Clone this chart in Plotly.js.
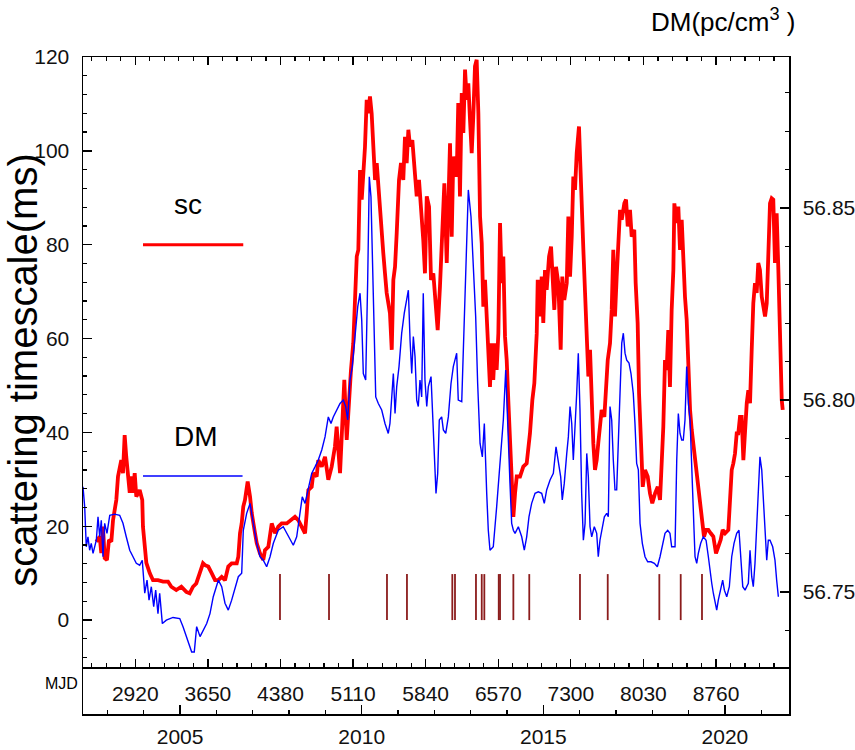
<!DOCTYPE html>
<html>
<head>
<meta charset="utf-8">
<script src="https://cdn.plot.ly/plotly-3.0.1.min.js"></script>
<style>
  html, body { margin: 0; padding: 0; background: #fff; }
  #plot { width: 855px; height: 750px; }
</style>
</head>
<body>
<div id="plot"></div>
<script>
// MJD - 50000 and scattering timescale (ms)
const mjdSc = [2528,2562,2578,2595,2612,2635,2655,2679,2696,2729,2746,2779,2796,2813,2829,2847,2864,2880,2897,2914,2930,2964,2990,2997,3015,3031,3065,3098,3148,3199,3249,3282,3332,3383,3433,3467,3500,3533,3568,3601,3621,3654,3688,3722,3755,3789,3822,3855,3889,3940,3956,3973,3990,4006,4023,4050,4074,4091,4124,4141,4174,4207,4224,4258,4292,4325,4358,4392,4443,4493,4526,4559,4593,4627,4644,4660,4694,4710,4744,4760,4795,4828,4861,4895,4928,4945,4979,4996,5022,5046,5062,5089,5112,5147,5163,5180,5197,5213,5230,5247,5263,5280,5297,5314,5331,5348,5364,5381,5398,5414,5431,5448,5481,5499,5515,5532,5549,5572,5592,5615,5632,5649,5666,5683,5706,5726,5750,5773,5800,5816,5833,5851,5874,5894,5917,5941,5961,5984,6008,6028,6052,6068,6085,6102,6118,6152,6168,6185,6203,6219,6236,6253,6269,6286,6303,6319,6336,6353,6370,6387,6404,6420,6437,6454,6470,6487,6504,6520,6537,6554,6571,6588,6605,6621,6638,6655,6671,6688,6705,6722,6739,6756,6789,6822,6856,6889,6913,6933,6957,6967,6990,7007,7023,7040,7057,7081,7101,7114,7134,7151,7174,7198,7214,7234,7259,7275,7292,7309,7325,7342,7359,7382,7392,7409,7426,7443,7460,7476,7493,7510,7526,7543,7560,7576,7593,7610,7637,7651,7671,7694,7711,7727,7744,7761,7778,7795,7812,7838,7855,7872,7895,7912,7938,7952,7972,7986,8006,8023,8046,8073,8096,8119,8147,8174,8197,8214,8230,8247,8264,8280,8297,8314,8331,8341,8365,8381,8398,8415,8431,8448,8465,8482,8499,8516,8532,8559,8582,8606,8626,8639,8660,8683,8707,8733,8760,8783,8807,8827,8851,8884,8901,8918,8934,8951,8968,8984,9001,9018,9035,9052,9069,9085,9102,9119,9135,9152,9169,9185,9202,9220,9236,9253,9270,9286,9303,9320,9336,9353,9370,9387,9404,9421,9431];
const sc = [16.7,17.8,14.3,19.9,13.2,12.8,17.1,16.7,21.3,25.6,30.6,34.1,31.3,39.4,34.8,31.3,27.1,30.6,27.1,31.3,26.3,27.7,25.6,19.9,15.6,12.2,10.0,8.5,8.5,8.2,8.2,7.1,6.4,7.1,6.0,5.7,7.1,7.8,10.0,12.1,11.7,11.4,10.0,8.5,8.5,9.2,8.5,11.4,12.1,12.1,13.5,18.5,20.6,24.2,25.6,29.5,26.3,22.8,18.5,16.4,14.2,12.8,14.9,15.6,20.6,18.5,19.9,20.6,20.6,21.3,22.0,21.3,19.9,18.5,22.8,27.7,28.4,31.3,30.6,34.1,32.7,34.8,29.9,32.7,37.0,41.2,31.3,41.2,51.2,38.4,45.5,53.3,59.0,77.5,78.9,95.9,89.6,95.2,100.9,110.9,108.0,111.6,108.0,100.9,93.8,97.4,92.4,86.7,81.0,78.2,73.9,69.7,65.4,57.6,72.5,75.3,82.5,93.8,97.4,93.8,103.0,97.4,104.5,100.9,102.3,97.4,90.3,93.8,86.7,81.0,73.9,90.3,88.1,72.5,73.9,66.8,61.8,71.1,83.2,93.1,76.1,86.0,101.6,81.7,98.8,94.5,110.2,90.3,112.3,103.8,117.3,110.9,114.4,106.6,99.5,107.3,118.0,119.4,108.0,86.0,80.3,66.8,72.5,64.7,57.6,49.7,59.0,51.2,59.0,53.3,61.1,84.6,71.8,77.5,60.4,55.4,46.9,39.8,32.0,22.0,27.0,30.6,30.6,32.7,33.4,39.8,46.9,50.5,61.1,72.5,64.7,73.2,63.3,74.6,70.4,77.5,79.6,75.3,66.1,75.3,71.8,57.6,73.2,68.2,71.8,86.0,73.2,81.7,94.5,91.7,99.5,105.2,98.1,88.8,78.9,69.7,59.0,51.9,57.6,44.8,37.7,32.0,34.1,37.7,40.5,44.8,43.3,49.7,55.4,59.0,66.1,78.9,64.7,73.2,81.7,87.4,85.3,88.8,89.6,83.9,87.4,81.7,83.2,71.8,63.3,48.3,37.7,28.4,32.0,30.6,27.0,24.9,27.0,28.4,25.6,33.4,41.2,55.4,53.3,61.8,49.7,66.1,74.6,88.8,84.6,88.1,78.9,85.3,76.1,68.9,64.0,51.9,44.8,40.5,37.7,32.0,28.4,24.9,21.3,17.8,19.2,19.2,18.5,17.8,14.2,15.6,17.1,19.2,18.5,19.2,24.9,32.0,33.4,35.5,39.8,39.8,43.3,43.3,34.1,41.9,46.2,49.0,46.2,57.6,67.5,71.8,69.7,76.1,74.6,68.9,66.1,64.7,67.5,76.1,88.8,89.9,89.6,76.1,86.7,74.6,56.1,46.9,44.8];

// MJD - 50000 and DM (pc/cm^3)
const mjdDm = [2394,2411,2427,2444,2461,2477,2495,2528,2545,2562,2578,2595,2612,2635,2663,2713,2763,2796,2829,2864,2897,2930,2964,2990,3015,3038,3058,3081,3105,3125,3148,3165,3192,3232,3299,3367,3400,3437,3487,3513,3537,3571,3604,3638,3671,3704,3755,3789,3822,3855,3889,3923,3956,3990,4006,4040,4074,4107,4141,4174,4207,4241,4275,4308,4358,4408,4443,4476,4509,4543,4576,4599,4627,4660,4694,4727,4760,4795,4828,4861,4888,4911,4945,4979,5012,5036,5056,5079,5102,5130,5157,5180,5197,5213,5237,5257,5273,5290,5307,5324,5338,5364,5398,5431,5464,5481,5499,5515,5532,5549,5572,5599,5625,5649,5666,5683,5700,5716,5733,5750,5766,5783,5800,5816,5833,5851,5867,5894,5911,5927,5944,5961,5977,6001,6018,6042,6068,6095,6118,6152,6168,6203,6219,6243,6269,6296,6319,6343,6363,6387,6410,6430,6454,6470,6487,6520,6554,6588,6621,6645,6665,6688,6705,6722,6739,6772,6806,6832,6856,6879,6906,6940,6973,7007,7033,7057,7091,7124,7151,7174,7198,7214,7234,7259,7275,7292,7309,7325,7342,7359,7375,7392,7409,7426,7443,7460,7476,7493,7510,7536,7560,7576,7593,7617,7637,7661,7677,7694,7711,7727,7744,7761,7778,7795,7812,7828,7845,7862,7885,7905,7928,7945,7962,7979,7996,8019,8046,8073,8106,8140,8170,8197,8220,8247,8274,8297,8314,8348,8365,8381,8398,8415,8431,8448,8465,8482,8499,8516,8526,8539,8549,8566,8582,8606,8632,8660,8683,8700,8717,8733,8750,8767,8783,8807,8827,8844,8868,8894,8918,8941,8968,8991,9008,9029,9052,9085,9102,9119,9135,9152,9169,9185,9202,9220,9236,9253,9270,9286,9303,9330,9353,9370,9387];
const dm = [56.7774,56.7722,56.7618,56.7644,56.7609,56.7627,56.7601,56.7635,56.7696,56.7644,56.7687,56.7592,56.7679,56.7653,56.7700,56.7703,56.7700,56.7679,56.7644,56.7609,56.7592,56.7575,56.7570,56.7583,56.7497,56.7531,56.7479,56.7514,56.7462,56.7505,56.7444,56.7497,56.7418,56.7427,56.7434,56.7431,56.7410,56.7384,56.7344,56.7344,56.7410,56.7384,56.7401,56.7418,56.7444,56.7488,56.7531,56.7514,56.7471,56.7453,56.7479,56.7514,56.7540,56.7549,56.7661,56.7705,56.7731,56.7679,56.7627,56.7592,56.7583,56.7566,56.7592,56.7627,56.7661,56.7670,56.7653,56.7635,56.7622,56.7644,56.7705,56.7748,56.7731,56.7774,56.7809,56.7826,56.7844,56.7870,56.7904,56.7956,56.7939,56.7956,56.7974,56.7991,56.8000,56.7983,56.7948,56.8052,56.8087,56.8174,56.8243,56.8278,56.8208,56.8069,56.8052,56.8312,56.8581,56.8529,56.8347,56.8139,56.8008,56.7991,56.7974,56.7939,56.7913,56.7939,56.8017,56.8069,56.7965,56.8035,56.8087,56.8174,56.8226,56.8269,56.8286,56.8156,56.8069,56.8165,56.8113,56.8000,56.7983,56.8052,56.8008,56.8278,56.8052,56.7983,56.8035,56.8061,56.7948,56.7835,56.7757,56.7809,56.7948,56.7956,56.7922,56.7913,56.7956,56.8043,56.8087,56.8122,56.8000,56.7996,56.8130,56.8391,56.8547,56.8477,56.8347,56.8217,56.8043,56.7887,56.7852,56.7939,56.7757,56.7661,56.7609,56.7618,56.7722,56.7844,56.7948,56.8078,56.7913,56.7783,56.7679,56.7661,56.7653,56.7670,56.7644,56.7609,56.7644,56.7696,56.7731,56.7757,56.7761,56.7757,56.7731,56.7766,56.7792,56.7809,56.7878,56.7844,56.7800,56.7740,56.7783,56.7861,56.7904,56.7983,56.7939,56.7844,56.7922,56.8017,56.8122,56.7974,56.7757,56.7635,56.7679,56.7861,56.7800,56.7670,56.7644,56.7670,56.7653,56.7592,56.7635,56.7670,56.7696,56.7705,56.7696,56.7983,56.7948,56.7844,56.7766,56.7766,56.7887,56.8000,56.8148,56.8174,56.8122,56.8104,56.8096,56.8069,56.8017,56.7939,56.7835,56.7818,56.7679,56.7627,56.7592,56.7579,56.7579,56.7575,56.7566,56.7592,56.7618,56.7653,56.7661,56.7653,56.7618,56.7618,56.7844,56.7965,56.7913,56.7896,56.7896,56.7948,56.8087,56.7991,56.7948,56.7844,56.7757,56.7661,56.7592,56.7575,56.7601,56.7627,56.7644,56.7635,56.7592,56.7549,56.7523,56.7497,56.7470,56.7453,56.7479,56.7505,56.7531,56.7505,56.7488,56.7514,56.7592,56.7627,56.7653,56.7661,56.7601,56.7514,56.7505,56.7523,56.7609,56.7540,56.7514,56.7575,56.7670,56.7766,56.7852,56.7818,56.7731,56.7644,56.7583,56.7635,56.7635,56.7618,56.7583,56.7531,56.7488];

// event epochs (MJD - 50000), drawn as short vertical bars
const eventMjd = [4375,4868,5451,5652,6108,6135,6346,6404,6430,6575,6588,6722,6882,7392,7671,8190,8405,8619];
const eventTop = 9.8;

// axis ticks
const mjdTicks = [2920,3650,4380,5110,5840,6570,7300,8030,8760];
const mjdRange = [2394, 9494];
const scRange = [-10, 120];
const dmRange = [56.7305, 56.8893];

// MJD-50000 -> decimal year
function toYear(m) { return 2000 + (m + 50000 - 51544.5) / 365.25; }

const FONT = 'Liberation Sans, Arial, sans-serif';
const AX = '#000';

const ex = [], ey = [];
eventMjd.forEach(m => { ex.push(m, m, null); ey.push(0, eventTop, null); });

const nSc = Math.min(mjdSc.length, sc.length);
const nDm = Math.min(mjdDm.length, dm.length);

const traces = [
    {
        x: ex, y: ey, mode: 'lines', xaxis: 'x', yaxis: 'y',
        line: {color: '#8b1c1c', width: 1.8}, hoverinfo: 'skip'
    },
    {
        x: mjdDm.slice(0, nDm), y: dm.slice(0, nDm), mode: 'lines',
        xaxis: 'x', yaxis: 'y2', name: 'DM',
        line: {color: '#0000ff', width: 1.4}
    },
    {
        x: mjdSc.slice(0, nSc), y: sc.slice(0, nSc), mode: 'lines',
        xaxis: 'x', yaxis: 'y', name: 'sc',
        line: {color: '#ff0000', width: 3.8}
    },
    // empty trace so the year-axis strip exists
    {x: [], y: [], xaxis: 'x2', yaxis: 'y3', mode: 'lines', hoverinfo: 'skip'}
];

const strip = 47 / 657;

const layout = {
    width: 855, height: 750,
    margin: {l: 83, r: 66, t: 57, b: 36},
    paper_bgcolor: '#fff', plot_bgcolor: '#fff',
    showlegend: false,
    font: {family: FONT, size: 21, color: '#111'},
    xaxis: {
        range: mjdRange, anchor: 'y', domain: [0, 1],
        tickmode: 'array', tickvals: mjdTicks,
        ticks: 'inside', ticklen: 8, tickwidth: 1.3, tickcolor: AX,
        minor: {tickmode: 'linear', tick0: 2920, dtick: 146, ticks: 'inside', ticklen: 4, tickwidth: 1.2, tickcolor: AX},
        showline: true, linecolor: AX, linewidth: 1.5, mirror: 'ticks',
        showgrid: false, zeroline: false,
        ticklabelstandoff: 7,
        tickfont: {size: 21, color: '#111'}
    },
    xaxis2: {
        range: mjdRange.map(toYear), anchor: 'y3', overlaying: 'x',
        tick0: 2005, dtick: 5,
        ticks: 'inside', ticklen: 9, tickwidth: 1.3, tickcolor: AX,
        minor: {dtick: 1, ticks: 'inside', ticklen: 4, tickwidth: 1.2, tickcolor: AX},
        showline: true, linecolor: AX, linewidth: 1.5,
        showgrid: false, zeroline: false,
        ticklabelstandoff: 3,
        tickfont: {size: 21, color: '#111'}
    },
    yaxis: {
        range: scRange, domain: [strip, 1], anchor: 'x',
        tick0: 0, dtick: 20,
        ticks: 'inside', ticklen: 9, tickwidth: 1.3, tickcolor: AX,
        minor: {dtick: 4, ticks: 'inside', ticklen: 4, tickwidth: 1.2, tickcolor: AX},
        showline: true, linecolor: AX, linewidth: 1.5,
        showgrid: false, zeroline: false,
        ticklabelstandoff: 8,
        tickfont: {size: 21, color: '#111'}
    },
    yaxis2: {
        range: dmRange, overlaying: 'y', side: 'right', anchor: 'x',
        tick0: 56.75, dtick: 0.05, tickformat: '.2f',
        ticks: 'inside', ticklen: 9, tickwidth: 1.3, tickcolor: AX,
        minor: {dtick: 0.01, ticks: 'inside', ticklen: 4, tickwidth: 1.2, tickcolor: AX},
        showline: true, linecolor: AX, linewidth: 1.5,
        showgrid: false, zeroline: false,
        ticklabelstandoff: 8,
        tickfont: {size: 21, color: '#111'}
    },
    yaxis3: {
        range: [0, 1], domain: [0, strip], anchor: 'x2',
        showline: true, linecolor: AX, linewidth: 1.5, mirror: true,
        ticks: '', showticklabels: false, showgrid: false, zeroline: false,
        fixedrange: true
    },
    shapes: [
        // legend samples
        {type: 'line', xref: 'paper', yref: 'y', x0: 0.085, x1: 0.227, y0: 80, y1: 80,
         line: {color: '#ff0000', width: 3}},
        {type: 'line', xref: 'paper', yref: 'y', x0: 0.085, x1: 0.226, y0: 30.7, y1: 30.7,
         line: {color: '#0000ff', width: 1.5}}
    ],
    annotations: [
        {text: 'sc', xref: 'paper', yref: 'y', x: 0.149, y: 88.5, showarrow: false,
         xanchor: 'center', yanchor: 'middle', font: {size: 28, color: '#000'}},
        {text: 'DM', xref: 'paper', yref: 'y', x: 0.160, y: 39.2, showarrow: false,
         xanchor: 'center', yanchor: 'middle', font: {size: 28, color: '#000'}},
        {text: 'scattering timescale(ms)', xref: 'paper', yref: 'paper',
         x: -0.085, y: 0.524, textangle: -90, showarrow: false,
         xanchor: 'center', yanchor: 'middle', font: {size: 40, color: '#000'}},
        {text: 'DM(pc/cm<sup>3</sup> )', xref: 'paper', yref: 'paper',
         x: 1.0113, y: 1.056, showarrow: false,
         xanchor: 'right', yanchor: 'middle', font: {size: 26, color: '#000'}},
        {text: 'MJD', xref: 'paper', yref: 'paper', x: -0.004, y: 0.047,
         showarrow: false, xanchor: 'right', yanchor: 'middle',
         font: {size: 16, color: '#000'}}
    ]
};

Plotly.newPlot('plot', traces, layout, {displayModeBar: false, staticPlot: true});
</script>
</body>
</html>
